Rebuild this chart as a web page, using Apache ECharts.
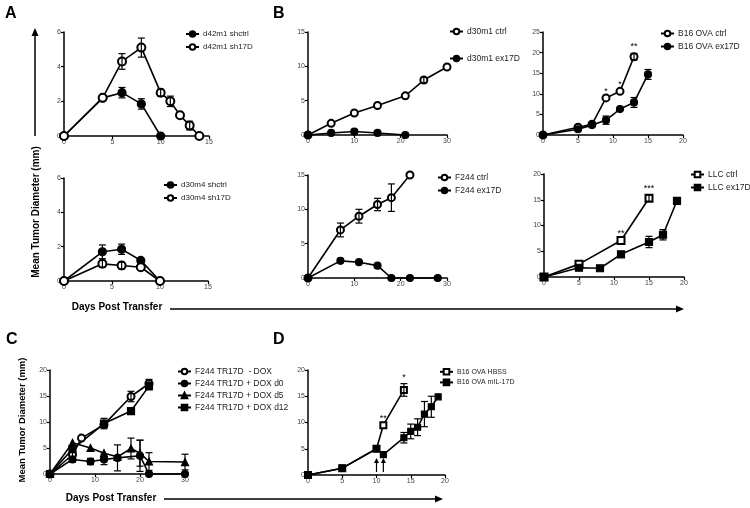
<!DOCTYPE html>
<html><head><meta charset="utf-8">
<script src="https://cdn.jsdelivr.net/npm/echarts@6/dist/echarts.min.js"></script>
<style>html,body{margin:0;padding:0;background:#fff}#c{width:750px;height:508px}</style>
</head><body><div id="c"></div>
<script>
// ---- data: [day, mean diameter (mm), error] ----
const d42m1_shctrl = [[0,0,0],[4,2.2,0],[6,2.5,0.3],[8,1.85,0.3],[10,0,0]];
const d42m1_sh17D  = [[0,0,0],[4,2.2,0],[6,4.3,0.45],[8,5.1,0.55],[10,2.5,0.2],[11,2.0,0.3],[12,1.2,0],[13,0.6,0.25],[14,0,0]];
const d30m4_shctrl = [[0,0,0],[4,1.7,0.4],[6,1.85,0.3],[8,1.2,0],[10,0,0]];
const d30m4_sh17D  = [[0,0,0],[4,1.0,0.2],[6,0.9,0.2],[8,0.8,0],[10,0,0]];
const d30m1_ctrl   = [[0,0,0],[5,1.7,0],[10,3.2,0],[15,4.3,0],[21,5.7,0],[25,8.0,0.4],[30,9.9,0]];
const d30m1_ex17D  = [[0,0,0],[5,0.3,0],[10,0.5,0.3],[15,0.3,0],[21,0,0]];
const b16ova_ctrl  = [[0,0,0],[5,1.9,0],[7,2.6,0],[9,9.0,0],[11,10.6,0],[13,19.0,0.8]];
const b16ova_ex17D = [[0,0,0],[5,1.4,0],[7,2.4,0],[9,3.6,1.0],[11,6.3,0],[13,7.9,1.2],[15,14.7,1.2]];
const b16ova_sig   = [[9,'*'],[11,'*'],[13,'**']];
const f244_ctrl    = [[0,0,0],[7,7.0,1.0],[11,9.0,1.0],[15,10.7,0.9],[18,11.7,2.0],[22,15.0,0]];
const f244_ex17D   = [[0,0,0],[7,2.5,0],[11,2.3,0],[15,1.8,0],[18,0,0],[22,0,0],[28,0,0]];
const llc_ctrl     = [[0,0,0],[5,2.5,0],[11,7.1,0],[15,15.3,0.6]];
const llc_ex17D    = [[0,0,0],[5,1.8,0],[8,1.7,0],[11,4.4,0],[15,6.8,1.1],[17,8.2,1.0],[19,14.8,0]];
const llc_sig      = [[11,'**'],[15,'***']];
const tr17d_noDox  = [[0,0,0],[5,3.7,0.5],[7,6.9,0],[12,9.5,0],[18,14.9,1.0],[22,17.4,0.8]];
const tr17d_dox0   = [[0,0,0],[5,2.8,0.5],[9,2.4,0.6],[12,2.8,1.0],[15,3.1,2.5],[20,3.5,3.0],[22,0,0],[30,0,0]];
const tr17d_dox5   = [[0,0,0],[5,6.0,0],[9,5.0,0],[12,4.0,0],[15,3.3,0],[18,4.9,2.0],[20,4.0,2.5],[22,2.4,1.7],[30,2.3,1.5]];
const tr17d_dox12  = [[0,0,0],[5,4.8,0],[12,9.7,1.0],[18,12.1,0.6],[22,16.9,0.7]];
const ova_hbss     = [[0,0,0],[5,1.3,0],[10,5.0,0],[11,9.5,0],[14,16.2,1.2]];
const ova_mil17d   = [[0,0,0],[5,1.3,0],[10,5.0,0],[11,3.9,0],[14,7.1,1.0],[15,8.3,1.4],[16,9.1,1.6],[17,11.6,2.4],[18,13.0,2.0],[19,14.9,0]];
const ova_sig      = [[11,'**'],[14,'*']];
const ova_injectionDays = [10, 11];

// axis ranges [xmax, xint, ymax, yint]
const axisRanges = [[15,5,6,2],[15,5,6,2],[30,10,15,5],[20,5,25,5],[30,10,15,5],[20,5,20,5],[30,10,20,5],[20,5,20,5]];

const FONT = 'Liberation Sans, Arial, sans-serif';
const grids = [
  {left:64, top:32, width:145, height:104},
  {left:64, top:178, width:144, height:103},
  {left:308, top:32, width:139, height:103},
  {left:543, top:32, width:140, height:103},
  {left:308, top:175, width:139, height:103},
  {left:544, top:174, width:140, height:103},
  {left:50, top:370, width:135, height:104},
  {left:308, top:370, width:137, height:105}
];
const axLine = {show:true, onZero:false, lineStyle:{color:'#000', width:1.5}};
const axTick = {show:true, inside:false, length:3, lineStyle:{color:'#000', width:1.2}};
const axLab = {fontSize:7, color:'#444', fontFamily:FONT, margin:3};
const xAxes = axisRanges.map((r,i)=>({type:'value', gridIndex:i, min:0, max:r[0], interval:r[1], axisLine:axLine, axisTick:axTick, axisLabel:axLab, splitLine:{show:false}}));
const yAxes = axisRanges.map((r,i)=>({type:'value', gridIndex:i, min:0, max:r[2], interval:r[3], axisLine:axLine, axisTick:axTick, axisLabel:axLab, splitLine:{show:false}}));

const series = [];
function addLine(name, data, gi, symbol, size){
  series.push({type:'line', name, xAxisIndex:gi, yAxisIndex:gi, data:data.map(d=>[d[0],d[1]]),
    symbol, symbolSize:size, showAllSymbol:true, clip:false,
    lineStyle:{color:'#000', width:1.6}, itemStyle:{color:'#000', borderColor:'#000', borderWidth:1.2}, z:3});
  series.push({type:'custom', xAxisIndex:gi, yAxisIndex:gi, silent:true, z:4, clip:false,
    data:data.filter(d=>d[2]>0), encode:{x:0,y:1},
    renderItem:(p,api)=>{
      const x=api.value(0), y=api.value(1), e=api.value(2);
      const t=api.coord([x,y+e]), b=api.coord([x,y-e]); const w=3.5;
      const st={stroke:'#000', lineWidth:1.2};
      return {type:'group', children:[
        {type:'line', shape:{x1:t[0],y1:t[1],x2:b[0],y2:b[1]}, style:st},
        {type:'line', shape:{x1:t[0]-w,y1:t[1],x2:t[0]+w,y2:t[1]}, style:st},
        {type:'line', shape:{x1:b[0]-w,y1:b[1],x2:b[0]+w,y2:b[1]}, style:st}]};
    }});
}
function addSig(sig, ref, gi){
  const data = sig.map(s=>{const p=ref.find(d=>d[0]===s[0]); return [s[0], p[1]+p[2], s[1]];});
  series.push({type:'custom', xAxisIndex:gi, yAxisIndex:gi, silent:true, z:5, clip:false, data, encode:{x:0,y:1},
    renderItem:(p,api)=>{const c=api.coord([api.value(0),api.value(1)]);
      return {type:'text', style:{x:c[0], y:c[1]-2, text:data[p.dataIndex][2], textAlign:'center', textVerticalAlign:'bottom', fontSize:9, fontFamily:FONT, fill:'#000'}};}});
}
addLine('d42m1 shctrl', d42m1_shctrl, 0, 'circle', 8);
addLine('d42m1 sh17D', d42m1_sh17D, 0, 'emptyCircle', 8);
addLine('d30m4 shctrl', d30m4_shctrl, 1, 'circle', 8);
addLine('d30m4 sh17D', d30m4_sh17D, 1, 'emptyCircle', 8);
addLine('d30m1 ctrl', d30m1_ctrl, 2, 'emptyCircle', 7);
addLine('d30m1 ex17D', d30m1_ex17D, 2, 'circle', 7);
addLine('B16 OVA ctrl', b16ova_ctrl, 3, 'emptyCircle', 7);
addLine('B16 OVA ex17D', b16ova_ex17D, 3, 'circle', 7);
addSig(b16ova_sig, b16ova_ctrl, 3);
addLine('F244 ctrl', f244_ctrl, 4, 'emptyCircle', 7);
addLine('F244 ex17D', f244_ex17D, 4, 'circle', 7);
addLine('LLC ctrl', llc_ctrl, 5, 'emptyRect', 7);
addLine('LLC ex17D', llc_ex17D, 5, 'rect', 7);
addSig(llc_sig, llc_ctrl, 5);
addLine('F244 TR17D  - DOX', tr17d_noDox, 6, 'emptyCircle', 7);
addLine('F244 TR17D + DOX d0', tr17d_dox0, 6, 'circle', 7);
addLine('F244 TR17D + DOX d5', tr17d_dox5, 6, 'triangle', 7);
addLine('F244 TR17D + DOX d12', tr17d_dox12, 6, 'rect', 7);
addLine('B16 OVA HBSS', ova_hbss, 7, 'emptyRect', 6);
addLine('B16 OVA mIL-17D', ova_mil17d, 7, 'rect', 6);
addSig(ova_sig, ova_hbss, 7);
series.push({type:'custom', xAxisIndex:7, yAxisIndex:7, silent:true, z:5, clip:false,
  data:ova_injectionDays.map(d=>[d,0]), encode:{x:0,y:1},
  renderItem:(p,api)=>{const b=api.coord([api.value(0),0]); const x=b[0], y2=b[1]-3, y1=b[1]-17;
    return {type:'group', children:[
      {type:'line', shape:{x1:x,y1:y2,x2:x,y2:y1+4}, style:{stroke:'#000', lineWidth:1.2}},
      {type:'polygon', shape:{points:[[x,y1],[x-2.5,y1+5],[x+2.5,y1+5]]}, style:{fill:'#000'}}]};}});

function legend(names, left, top, gap, fs){
  return {orient:'vertical', left, top, data:names, itemWidth:13, itemHeight:7, itemGap:gap, padding:0,
    textStyle:{fontSize:fs||8.5, fontFamily:FONT, color:'#222', padding:[0,0,0,-1]}, selectedMode:false};
}
const legends = [
  legend(['d42m1 shctrl','d42m1 sh17D'], 185, 30, 5, 8),
  legend(['d30m4 shctrl','d30m4 sh17D'], 163, 181, 5, 8),
  legend(['d30m1 ctrl','d30m1 ex17D'], 449, 27, 18),
  legend(['B16 OVA ctrl','B16 OVA ex17D'], 660, 29, 4),
  legend(['F244 ctrl','F244 ex17D'], 437, 173, 4),
  legend(['LLC ctrl','LLC ex17D'], 690, 170, 4),
  legend(['F244 TR17D  - DOX','F244 TR17D + DOX d0','F244 TR17D + DOX d5','F244 TR17D + DOX d12'], 177, 367, 3),
  legend(['B16 OVA HBSS','B16 OVA mIL-17D'], 439, 368, 3, 7)
];

const bold = (text,x,y,fs)=>({type:'text', left:x, top:y, style:{text, fontSize:fs, fontWeight:'bold', fontFamily:FONT, fill:'#000'}});
const graphic = [
  bold('A',5,6,16), bold('B',273,6,16), bold('C',6,332,16), bold('D',273,332,16),
  {type:'text', x:36, y:212, rotation:Math.PI/2, style:{text:'Mean Tumor Diameter (mm)', fontSize:10, fontWeight:'bold', fontFamily:FONT, fill:'#000', textAlign:'center', textVerticalAlign:'middle'}},
  {type:'text', x:22, y:420, rotation:Math.PI/2, style:{text:'Mean Tumor Diameter (mm)', fontSize:9.5, fontWeight:'bold', fontFamily:FONT, fill:'#000', textAlign:'center', textVerticalAlign:'middle'}},
  {type:'text', x:117, y:307, style:{text:'Days Post Transfer', fontSize:10, fontWeight:'bold', fontFamily:FONT, fill:'#000', textAlign:'center', textVerticalAlign:'middle'}},
  {type:'text', x:111, y:498, style:{text:'Days Post Transfer', fontSize:10, fontWeight:'bold', fontFamily:FONT, fill:'#000', textAlign:'center', textVerticalAlign:'middle'}},
  {type:'line', shape:{x1:35,y1:136,x2:35,y2:34}, style:{stroke:'#000', lineWidth:1.5}},
  {type:'polygon', shape:{points:[[35,28],[31.5,36],[38.5,36]]}, style:{fill:'#000'}},
  {type:'line', shape:{x1:170,y1:309,x2:677,y2:309}, style:{stroke:'#000', lineWidth:1.5}},
  {type:'polygon', shape:{points:[[684,309],[676,305.5],[676,312.5]]}, style:{fill:'#000'}},
  {type:'line', shape:{x1:164,y1:499,x2:436,y2:499}, style:{stroke:'#000', lineWidth:1.5}},
  {type:'polygon', shape:{points:[[443,499],[435,495.5],[435,502.5]]}, style:{fill:'#000'}}
];

const chart = echarts.init(document.getElementById('c'), null, {renderer:'canvas'});
chart.setOption({animation:false, backgroundColor:'#fff', grid:grids, xAxis:xAxes, yAxis:yAxes, legend:legends, series, graphic});
</script></body></html>
